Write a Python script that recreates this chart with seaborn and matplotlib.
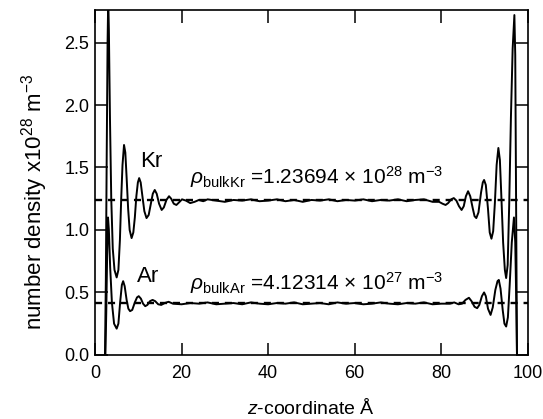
import numpy as np
import pandas as pd
import matplotlib
matplotlib.use("Agg")
import matplotlib.pyplot as plt
import seaborn as sns

# number density profiles (units of 1e28 m^-3)
z_kr = [2.3, 2.5, 2.7, 2.9, 3.05, 3.2, 3.45, 3.75, 4.1, 4.5, 5.0, 5.4, 5.75, 6.05, 6.35, 6.7,
        7.0, 7.3, 7.65, 8.0, 8.45, 8.85, 9.2, 9.55, 9.9, 10.2, 10.55, 10.95, 11.4, 11.9,
        12.4, 12.9, 13.35, 13.8, 14.25, 14.8, 15.4, 15.9, 16.5, 17.1, 17.6, 18.2, 18.8,
        19.4, 20.1, 21.0, 22.0, 23.0, 24.0, 25.0, 26.0, 28.0, 30.0, 32.0, 34.0, 36.0,
        38.0, 40.0, 42.0, 44.0, 46.0, 48.0, 50.0, 52.0, 54.0, 56.0, 58.0, 60.0, 62.0,
        64.0, 66.0, 68.0, 70.0, 72.0, 74.0, 76.0, 78.0, 79.5, 80.3, 81.0, 81.6, 82.3,
        82.9, 83.5, 84.1, 84.7, 85.2, 85.7, 86.2, 86.7, 87.3, 87.7, 88.1, 88.6, 89.2,
        89.6, 89.9, 90.3, 90.8, 91.2, 91.6, 92.0, 92.4, 92.8, 93.2, 93.55, 93.9, 94.3,
        94.7, 95.0, 95.35, 95.7, 96.1, 96.5, 96.9, 97.1, 97.3, 97.5]
n_kr = [0.0, 0.6, 1.6, 2.5, 2.85, 2.6, 1.9, 1.25, 0.85, 0.68, 0.62, 0.68, 0.92, 1.25, 1.52, 1.68,
        1.62, 1.42, 1.17, 1.0, 0.935, 0.98, 1.1, 1.27, 1.38, 1.415, 1.38, 1.27, 1.15, 1.095,
        1.12, 1.21, 1.29, 1.32, 1.29, 1.21, 1.16, 1.18, 1.24, 1.27, 1.25, 1.21, 1.2,
        1.22, 1.245, 1.235, 1.215, 1.225, 1.24, 1.23, 1.245, 1.235, 1.225, 1.24, 1.235, 1.245,
        1.23, 1.235, 1.245, 1.23, 1.24, 1.225, 1.24, 1.235, 1.245, 1.23, 1.24, 1.235, 1.245,
        1.23, 1.24, 1.235, 1.245, 1.23, 1.24, 1.245, 1.225, 1.225, 1.21, 1.20, 1.215, 1.245,
        1.255, 1.235, 1.19, 1.16, 1.19, 1.27, 1.31, 1.27, 1.17, 1.11, 1.095, 1.14, 1.30,
        1.38, 1.40, 1.36, 1.17, 0.98, 0.93, 0.99, 1.22, 1.52, 1.656, 1.56, 1.26, 0.9,
        0.68, 0.615, 0.72, 1.2, 1.9, 2.45, 2.72, 2.4, 1.2, 0.0]

z_ar = [2.4, 2.6, 2.8, 3.0, 3.2, 3.5, 3.9, 4.4, 5.0, 5.4, 5.8, 6.2, 6.5, 6.85, 7.3, 7.7,
        8.1, 8.6, 9.2, 9.7, 10.1, 10.6, 11.1, 11.6, 12.1, 12.7, 13.3, 13.9, 14.6, 15.3,
        16.1, 17.0, 18.0, 20.0, 22.0, 24.0, 26.0, 28.0, 30.0, 32.0, 34.0, 36.0, 38.0,
        40.0, 42.0, 44.0, 46.0, 48.0, 50.0, 52.0, 54.0, 56.0, 58.0, 60.0, 62.0, 64.0,
        66.0, 68.0, 70.0, 72.0, 74.0, 76.0, 78.0, 80.0, 82.0, 83.0, 84.0, 84.8, 85.6,
        86.4, 87.0, 87.7, 88.3, 88.8, 89.4, 89.9, 90.3, 90.8, 91.4, 91.9, 92.5, 93.0,
        93.3, 93.7, 94.2, 94.6, 95.0, 95.4, 95.8, 96.3, 96.8, 97.1, 97.3, 97.5]
n_ar = [0.0, 0.35, 0.8, 1.1, 1.0, 0.7, 0.42, 0.25, 0.21, 0.25, 0.42, 0.56, 0.59, 0.55, 0.44, 0.37,
        0.35, 0.36, 0.42, 0.46, 0.47, 0.45, 0.41, 0.39, 0.40, 0.43, 0.44, 0.43, 0.405, 0.40,
        0.415, 0.425, 0.41, 0.405, 0.415, 0.41, 0.42, 0.405, 0.41, 0.415, 0.405, 0.42, 0.41,
        0.405, 0.415, 0.41, 0.42, 0.405, 0.41, 0.415, 0.405, 0.42, 0.41, 0.415, 0.405, 0.41,
        0.42, 0.41, 0.405, 0.415, 0.41, 0.42, 0.405, 0.41, 0.41, 0.42, 0.405, 0.41, 0.44,
        0.457, 0.43, 0.385, 0.374, 0.40, 0.47, 0.50, 0.47, 0.37, 0.32, 0.38, 0.52, 0.59,
        0.60, 0.53, 0.36, 0.25, 0.227, 0.30, 0.55, 0.9, 1.1, 0.9, 0.5, 0.0]

bulk_kr = 1.23694
bulk_ar = 0.412314

sns.set_style("ticks")
plt.rcParams['font.family'] = ['Liberation Sans', 'DejaVu Sans']
plt.rcParams['mathtext.fontset'] = 'custom'
plt.rcParams['mathtext.rm'] = 'Liberation Sans'
plt.rcParams['mathtext.it'] = 'Liberation Sans:italic'
plt.rcParams['text.color'] = 'black'
plt.rcParams['axes.labelcolor'] = 'black'
plt.rcParams['xtick.color'] = 'black'
plt.rcParams['ytick.color'] = 'black'
plt.rcParams['axes.edgecolor'] = 'black'

df = pd.concat([
    pd.DataFrame({'z': z_kr, 'n': n_kr, 'species': 'Kr'}),
    pd.DataFrame({'z': z_ar, 'n': n_ar, 'species': 'Ar'}),
])

fig = plt.figure(figsize=(5.43, 4.19), dpi=100)
ax = fig.add_axes([0.175, 0.153, 0.797, 0.823])
sns.lineplot(data=df, x='z', y='n', units='species', estimator=None, sort=False,
             color='black', lw=1.4, ax=ax, legend=False)
ax.axhline(bulk_kr, color='black', lw=1.7, ls=(0, (3, 2.5)))
ax.axhline(bulk_ar, color='black', lw=1.7, ls=(0, (3, 2.5)))

ax.set_xlim(0, 100)
ax.set_ylim(0, 2.76)
ax.set_xticks([0, 20, 40, 60, 80, 100])
ax.set_yticks([0.0, 0.5, 1.0, 1.5, 2.0, 2.5])
ax.set_yticklabels(['0.0', '0.5', '1.0', '1.5', '2.0', '2.5'])
ax.tick_params(direction='in', top=True, right=True, length=9, width=1.1, labelsize=13)
ax.tick_params(axis='x', pad=7)
ax.tick_params(axis='y', pad=4)
for s in ax.spines.values():
    s.set_linewidth(1.2)

ax.set_xlabel('$z$-coordinate Å', fontsize=14, labelpad=12)
ax.set_ylabel('number density x10$^{28}$ m$^{-3}$', fontsize=16)
ax.yaxis.set_label_coords(-0.105, 0.445)

ax.text(12.9, 1.55, 'Kr', fontsize=16, ha='center', va='center')
ax.text(12.3, 0.63, 'Ar', fontsize=16, ha='center', va='center')
ax.text(22.0, 1.37, r'$\rho_{\rm bulkKr}$ =1.23694 $\times$ 10$^{28}$ m$^{-3}$', fontsize=15)
ax.text(22.0, 0.52, r'$\rho_{\rm bulkAr}$ =4.12314 $\times$ 10$^{27}$ m$^{-3}$', fontsize=15)

fig.savefig('out.png', dpi=100)
